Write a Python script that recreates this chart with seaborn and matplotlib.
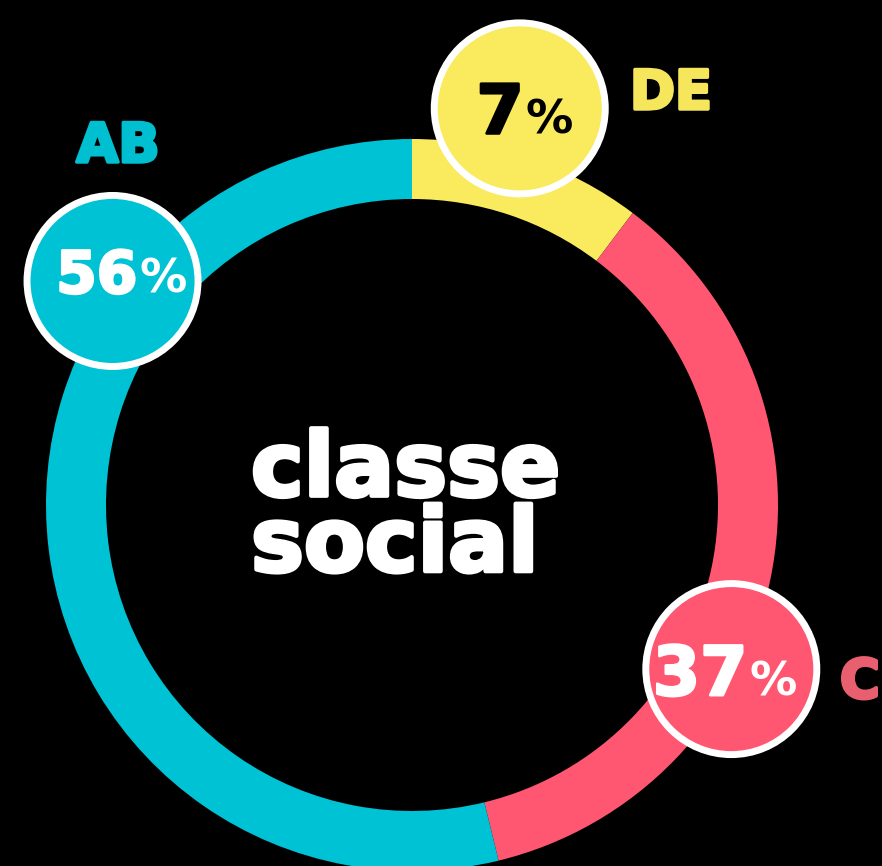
import matplotlib
matplotlib.use("Agg")
import matplotlib.pyplot as plt
import matplotlib.patheffects as pe
from matplotlib.patches import Circle
import numpy as np
import seaborn as sns

# ---- data (clockwise from the top of the ring) ----
classes = ["DE", "C", "AB"]
arc_shares = [10.3, 35.9, 53.8]          # ring share as drawn in the picture
pct_numbers = ["7", "37", "56"]          # printed percentages
ring_colors = ["#FAEA5E", "#FF5771", "#00C2D5"]
label_colors = ["#F6E65C", "#E8606F", "#00BFD0"]
pct_text_colors = ["#000000", "#FFFFFF", "#FFFFFF"]
center_title = "classe\nsocial"

# ---- layout (pixel units, ring centre at 0,0) ----
R_OUT, R_WIDTH = 366, 60
bubble_polar = [(74.8, 411), (-27.2, 359), (143.2, 374)]   # angle deg, radius
bubble_r = 85.5
pct_offsets = [(4, -25), (16, -26), (25, -12)]
pct_sizes = [49, 49, 42]
label_pos = [(259, 396, "center"), (428, -193, "left"), (-294, 343, "center")]

sns.set_theme(style="dark", rc={"axes.facecolor": "black", "figure.facecolor": "black"})
plt.rcParams['font.family'] = ['DejaVu Sans']

fig = plt.figure(figsize=(8.82, 8.66), dpi=100)
ax = fig.add_axes([0, 0, 1, 1])
ax.set_facecolor("black")

ax.pie(arc_shares, colors=sns.color_palette(ring_colors), startangle=90, counterclock=False,
       radius=R_OUT, center=(0, 0), wedgeprops=dict(width=R_WIDTH, linewidth=0))

heavy = lambda c, w=3: [pe.withStroke(linewidth=w, foreground=c)]

for i, cls in enumerate(classes):
    ang, rad = bubble_polar[i]
    cx = rad * np.cos(np.radians(ang))
    cy = rad * np.sin(np.radians(ang))
    ax.add_patch(Circle((cx, cy), bubble_r, facecolor=ring_colors[i], edgecolor="white",
                        linewidth=5, zorder=5))
    dx, dy = pct_offsets[i]
    ax.text(cx + dx, cy + dy, pct_numbers[i], ha="right", va="baseline", fontsize=pct_sizes[i],
            fontweight="bold", color=pct_text_colors[i], zorder=6,
            path_effects=heavy(pct_text_colors[i], 2))
    ax.text(cx + dx + 2, cy + dy, "%", ha="left", va="baseline", fontsize=34,
            fontweight="bold", color=pct_text_colors[i], zorder=6)
    lx, ly, lha = label_pos[i]
    ax.text(lx, ly, cls, ha=lha, va="baseline", fontsize=39, fontweight="bold",
            color=label_colors[i], path_effects=heavy(label_colors[i], 2.5))

ax.text(-161, -4, center_title, ha="left", va="center", fontsize=64, fontweight="bold",
        color="white", linespacing=0.83, path_effects=heavy("white", 3))

ax.set_xlim(-412, 470)
ax.set_ylim(-361, 505)
ax.set_aspect("equal")
ax.axis("off")

fig.savefig("out.png", dpi=100, facecolor="black")
